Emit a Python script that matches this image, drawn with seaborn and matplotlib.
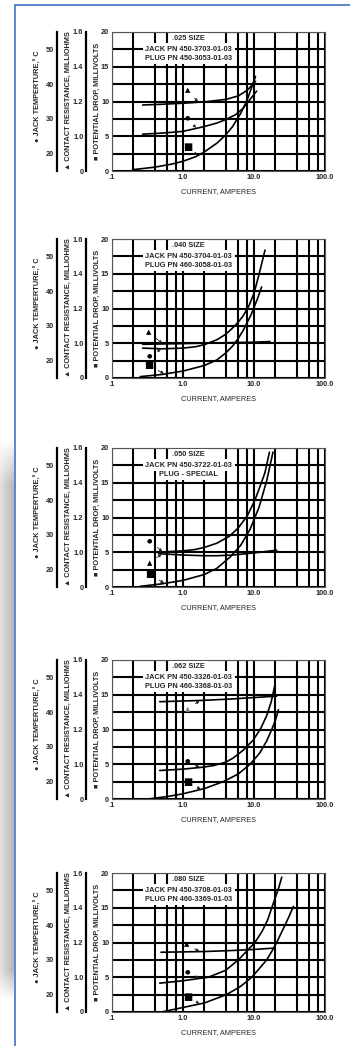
import numpy as np
import matplotlib
matplotlib.use('Agg')
import matplotlib.pyplot as plt
import seaborn as sns
from matplotlib.ticker import FixedLocator, NullFormatter
from matplotlib.lines import Line2D
from matplotlib.transforms import blended_transform_factory

sns.set_style('white')
plt.rcParams['font.family'] = ['Liberation Sans', 'DejaVu Sans']
plt.rcParams['font.weight'] = 'bold'

# panel texts
sizes = ['.025 SIZE', '.040 SIZE', '.050 SIZE', '.062 SIZE', '.080 SIZE']
jack_pn = ['JACK PN 450-3703-01-03', 'JACK PN 450-3704-01-03', 'JACK PN 450-3722-01-03',
           'JACK PN 450-3326-01-03', 'JACK PN 450-3708-01-03']
plug_pn = ['PLUG PN 450-3053-01-03', 'PLUG PN 460-3058-01-03', 'PLUG - SPECIAL',
           'PLUG PN 460-3368-01-03', 'PLUG PN 460-3369-01-03']

# .025 size  (current A -> temp C, resistance mOhm, drop mV)
amp_t_025 = [0.27, 0.5, 1.0, 2.0, 3.0, 4.0, 5.5, 7.0, 8.5, 10.9]
temp_025 = [25.6, 25.9, 26.4, 27.8, 28.8, 29.8, 31.2, 33.0, 35.2, 38.0]
amp_r_025 = [0.27, 0.5, 1.0, 2.0, 4.0, 6.0, 8.0, 10.5]
res_025 = [1.18, 1.184, 1.19, 1.198, 1.212, 1.232, 1.264, 1.316]
amp_v_025 = [0.2, 0.4, 0.7, 1.0, 1.5, 2.0, 3.0, 4.0, 5.0, 6.5, 8.0, 10.5]
drop_025 = [0.2, 0.55, 1.0, 1.4, 2.05, 2.75, 4.0, 5.2, 6.4, 8.3, 10.2, 13.6]

# .040 size
amp_t_040 = [0.27, 0.5, 1.0, 1.5, 2.0, 3.0, 4.0, 5.0, 6.0, 7.0, 8.5, 10.0, 11.5, 13.0, 14.3]
temp_040 = [23.6, 23.4, 23.6, 24.0, 24.6, 26.0, 27.6, 29.4, 31.1, 32.8, 35.8, 39.4, 44.0, 48.4, 51.8]
amp_r_040 = [0.27, 1.0, 3.0, 10.0, 16.8]
res_040 = [0.994, 0.998, 1.002, 1.006, 1.01]
amp_v_040 = [0.25, 0.5, 1.0, 2.0, 3.0, 4.0, 5.0, 6.0, 7.0, 9.0, 11.0, 12.8]
drop_040 = [0.2, 0.5, 1.0, 1.8, 2.6, 3.6, 4.6, 5.7, 6.8, 9.0, 11.2, 13.1]

# .050 size
amp_t_050 = [0.45, 1.0, 1.5, 2.0, 3.0, 4.5, 6.0, 8.0, 10.3, 12.5, 14.3, 16.5]
temp_050 = [25.0, 25.4, 25.8, 26.4, 27.6, 29.6, 32.0, 35.4, 40.0, 44.6, 48.0, 53.8]
amp_r_050 = [0.45, 1.0, 2.0, 3.0, 5.0, 10.0, 20.9]
res_050 = [0.992, 0.984, 0.98, 0.98, 0.984, 0.996, 1.012]
amp_v_050 = [0.25, 0.5, 1.0, 2.0, 3.0, 4.6, 6.5, 8.8, 11.8, 15.1, 18.5]
drop_050 = [0.1, 0.45, 0.95, 1.8, 2.7, 4.3, 6.0, 8.3, 11.5, 15.3, 19.4]

# .062 size
amp_t_062 = [0.47, 1.0, 1.8, 2.67, 4.0, 5.1, 7.0, 9.8, 12.5, 15.1, 17.5, 19.7]
temp_062 = [23.2, 23.6, 24.1, 24.6, 25.6, 26.8, 29.0, 32.0, 35.4, 39.0, 43.0, 47.8]
amp_r_062 = [0.47, 1.0, 2.0, 5.0, 10.0, 20.9]
res_062 = [1.36, 1.364, 1.368, 1.376, 1.384, 1.392]
amp_v_062 = [0.32, 0.6, 1.0, 2.0, 3.7, 6.0, 8.8, 12.0, 15.0, 17.8, 20.0, 22.1]
drop_062 = [0.0, 0.35, 0.75, 1.5, 2.5, 3.6, 5.0, 6.6, 8.3, 10.0, 11.3, 12.85]

# .080 size
amp_t_080 = [0.47, 1.0, 2.27, 4.0, 6.0, 8.0, 10.3, 13.0, 15.5, 17.8, 20.5, 22.5, 24.6]
temp_080 = [23.3, 24.0, 25.0, 27.0, 30.0, 32.6, 35.0, 38.2, 41.4, 45.0, 48.6, 51.0, 53.8]
amp_r_080 = [0.49, 1.0, 2.0, 5.0, 10.0, 19.8]
res_080 = [1.144, 1.146, 1.148, 1.154, 1.16, 1.168]
amp_v_080 = [0.5, 1.0, 2.0, 4.1, 6.5, 9.3, 12.0, 15.1, 18.0, 20.9, 24.0, 27.4, 31.0, 35.9]
drop_080 = [0.0, 0.65, 1.3, 2.5, 3.7, 5.0, 6.3, 7.5, 8.8, 10.0, 11.3, 12.5, 13.7, 15.2]

x_ticks = [0.1, 1, 10, 100]
x_ticklabels = ['.1', '1.0', '10.0', '100.0']
x_grid = [0.2, 0.4, 0.6, 0.8, 2, 4, 6, 8, 20, 40, 60, 80]
mv_ticks = [0, 5, 10, 15, 20]
temp_ticks = [20, 30, 40, 50]
res_ticks = [0.8, 1.0, 1.2, 1.4, 1.6]
res_ticklabels = ['0', '1.0', '1.2', '1.4', '1.6']

panels = [
    (amp_t_025, temp_025, amp_r_025, res_025, amp_v_025, drop_025),
    (amp_t_040, temp_040, amp_r_040, res_040, amp_v_040, drop_040),
    (amp_t_050, temp_050, amp_r_050, res_050, amp_v_050, drop_050),
    (amp_t_062, temp_062, amp_r_062, res_062, amp_v_062, drop_062),
    (amp_t_080, temp_080, amp_r_080, res_080, amp_v_080, drop_080),
]

# arrow callouts: (tip current, dx px, dy px) for temp, res, drop
callouts = [
    [(1.55, -9, 10), (1.65, -11, 12), (1.6, -10, 9)],
    [(0.50, -12, -7), (0.52, -14, 12), (0.55, -16, 9)],
    [(0.52, -13, 11), (0.51, -13, -9), (0.55, -15, 9)],
    [(1.73, -13, 7), (1.73, -12, -9), (1.8, -13, 7)],
    [(1.73, -13, 6), (1.73, -13, 7), (1.73, -12, 7)],
]

W, H = 350, 1046
fig = plt.figure(figsize=(W / 100, H / 100), dpi=100)

# page decoration: grey band and blue frame
band = fig.add_axes([0, 46 / H, 14 / W, 560 / H])
gx = np.linspace(0.88, 0.72, 14)
gy = np.ones(560)
gy[:45] = np.linspace(0, 1, 45)
gy[-30:] = np.linspace(1, 0, 30)
img = np.ones((560, 14, 4))
img[..., 0] = img[..., 1] = img[..., 2] = gx[None, :]
img[..., 3] = gy[:, None]
band.imshow(img, aspect='auto')
band.axis('off')
fig.add_artist(Line2D([15.5 / W, 15.5 / W], [0, 1 - 5 / H], transform=fig.transFigure,
                      color='#4f7fc4', lw=1.3))
fig.add_artist(Line2D([15 / W, 1], [1 - 5 / H, 1 - 5 / H], transform=fig.transFigure,
                      color='#4f7fc4', lw=1.3))

tops = [32, 239, 448, 660, 873]
ph = 139
fs = 5.3

for i, (at, tv, ar, rv, av, dv) in enumerate(panels):
    ax = fig.add_axes([112 / W, 1 - (tops[i] + ph) / H, 213 / W, ph / H])
    ax.set_xscale('log')
    ax.set_xlim(0.1, 100)
    ax.set_ylim(0, 20)
    ax.set_axisbelow(True)
    ax.set_xticks(x_ticks, x_ticklabels)
    ax.xaxis.set_minor_locator(FixedLocator(x_grid))
    ax.xaxis.set_minor_formatter(NullFormatter())
    ax.set_yticks(mv_ticks)
    ax.yaxis.set_minor_locator(FixedLocator([2.5, 7.5, 12.5, 17.5]))
    ax.grid(which='both', color='black', lw=1.5)
    ax.tick_params(which='both', length=0, labelsize=fs, pad=2)
    for s in ax.spines.values():
        s.set_color('#555555')
        s.set_linewidth(0.8)

    tw = ax.twinx()
    rw = ax.twinx()
    for t, lim, off in [(tw, (15, 55), 39.6), (rw, (0.8, 1.6), 18.7)]:
        t.set_ylim(*lim)
        t.yaxis.set_ticks_position('left')
        for k in ['right', 'top', 'bottom']:
            t.spines[k].set_visible(False)
        t.spines['left'].set_visible(True)
        t.spines['left'].set_position(('outward', off))
        t.spines['left'].set_linewidth(1.6)
        t.spines['left'].set_color('black')
        t.tick_params(axis='y', length=0, labelsize=fs, pad=2)
    tw.set_yticks(temp_ticks)
    rw.set_yticks(res_ticks, res_ticklabels)

    sns.lineplot(x=at, y=tv, ax=tw, color='black', lw=1.2, legend=False)
    sns.lineplot(x=ar, y=rv, ax=rw, color='black', lw=1.2, legend=False)
    sns.lineplot(x=av, y=dv, ax=ax, color='black', lw=1.2, legend=False)
    tw.set_ylabel('')
    rw.set_ylabel('')

    # callouts
    for (tip, dx, dy), t, xs, ys, glyph, gs, col in zip(
            callouts[i], [tw, rw, ax], [at, ar, av], [tv, rv, dv],
            ['\u25cf', '\u25b2', '\u25a0'], [4.5, 5, 7],
            ['black', '#888888' if i == 3 else 'black', 'black']):
        yt = np.interp(np.log10(tip), np.log10(xs), ys)
        t.annotate(glyph, xy=(tip, yt), xytext=(dx, dy), textcoords='offset pixels',
                   ha='center', va='center', fontsize=gs, color=col,
                   family=['DejaVu Sans'],
                   arrowprops=dict(arrowstyle='-|>', color='#222222', lw=0.6,
                                   mutation_scale=4, shrinkA=1.5, shrinkB=0.5))

    bb = dict(facecolor='white', edgecolor='none', boxstyle='square,pad=0.35')
    ax.text(1.2, 19.0, sizes[i], ha='center', va='center', fontsize=fs, bbox=bb, zorder=3)
    ax.text(1.2, 17.55, jack_pn[i], ha='center', va='center', fontsize=fs, bbox=bb, zorder=3)
    ax.text(1.2, 16.25, plug_pn[i], ha='center', va='center', fontsize=fs, bbox=bb, zorder=3)

    ax.set_xlabel('CURRENT, AMPERES', fontsize=fs, labelpad=5)
    ax.set_ylabel('')

    tr = blended_transform_factory(fig.transFigure, ax.transAxes)
    ax.text(38 / W, 0.54, '\u25cf JACK TEMPERTURE,\u00b0 C', rotation=90, transform=tr,
            ha='center', va='center', fontsize=fs)
    ax.text(68 / W, 0.51, '\u25b2 CONTACT RESISTANCE, MILLIOHMS', rotation=90, transform=tr,
            ha='center', va='center', fontsize=fs)
    ax.text(97 / W, 0.5, '\u25a0 POTENTIAL DROP, MILLIVOLTS', rotation=90, transform=tr,
            ha='center', va='center', fontsize=fs)

fig.savefig('out.png', dpi=100)
